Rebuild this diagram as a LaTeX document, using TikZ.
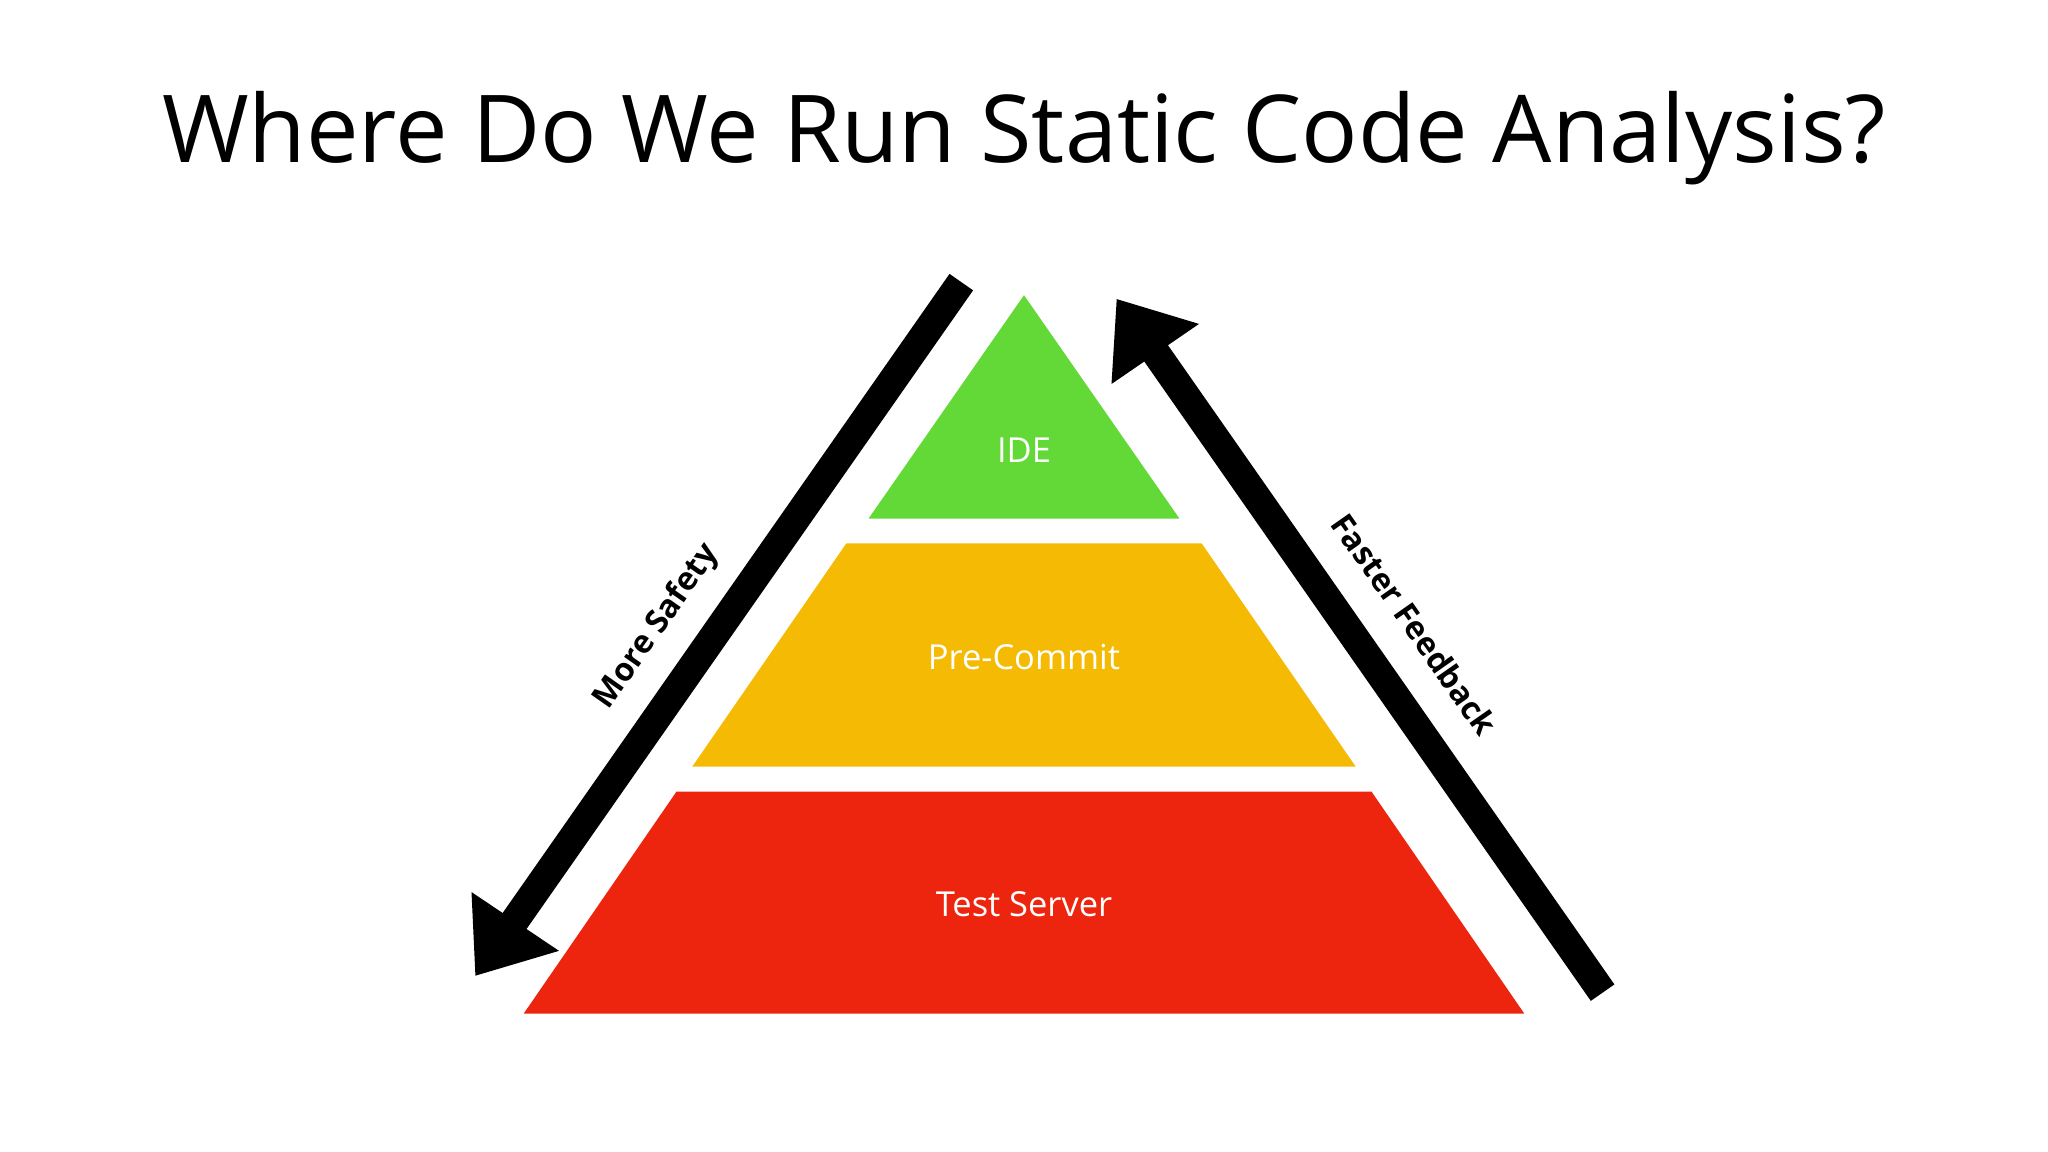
\documentclass[tikz,border=0pt]{standalone}
\usepackage{fontspec}
\setmainfont{Open Sans}
\definecolor{cgreen}{HTML}{62D936}
\definecolor{cyellow}{HTML}{F5BA04}
\definecolor{cred}{HTML}{EE250E}
\begin{document}
\begin{tikzpicture}[x=0.01cm,y=-0.01cm,
  lbl/.style={text=white,font=\fontsize{7.5pt}{9pt}\selectfont},
  albl/.style={font=\bfseries\fontsize{7pt}{8pt}\selectfont}]
\useasboundingbox[fill=white] (0,0) rectangle (1568,882);
\node (title) at (784,106) {\fontsize{20.4pt}{25pt}\selectfont Where Do We Run Static Code Analysis?};
\fill[cgreen] (784,226) -- (903,397) -- (665,397) -- cycle;
\fill[cyellow] (648,416) -- (920,416) -- (1038,587) -- (530,587) -- cycle;
\fill[cred] (518,606) -- (1050,606) -- (1167,776) -- (401,776) -- cycle;
\node[lbl] (ide) at (784,345) {IDE};
\node[lbl] (pre) at (784,503) {Pre-Commit};
\node[lbl] (test) at (784,692) {Test Server};
% left arrow
\coordinate (lt) at (736,216);
\coordinate (lh) at (385,718);
\draw[line width=0.22cm] (lt) -- (lh);
\fill (364,747) -- (361,683) -- (428,728) -- cycle;
% right arrow
\coordinate (rt) at (1227,760);
\coordinate (rh) at (875,256);
\draw[line width=0.22cm] (rt) -- (rh);
\fill (855,229) -- (918,248) -- (851,294) -- cycle;
\node[albl,rotate=55] (ms) at (503,480) {More Safety};
\node[albl,rotate=-55] (ff) at (1083,478) {Faster Feedback};
\end{tikzpicture}
\end{document}
